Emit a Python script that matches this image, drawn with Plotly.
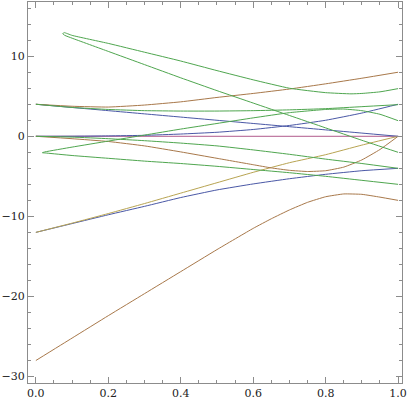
import plotly.graph_objects as go

# curve data
pink_x = [0.0, 1.0]
pink_y = [0.0, 0.0]

brown_top_x = [0.0, 0.1, 0.2, 0.3, 0.4, 0.5, 0.6, 0.7, 0.8, 0.9, 1.0]
brown_top_y = [4.0, 3.75, 3.65, 3.9, 4.3, 4.85, 5.35, 5.9, 6.55, 7.25, 8.0]

blue_down_x = [0.0, 0.1, 0.2, 0.3, 0.4, 0.5, 0.6, 0.7, 0.8, 0.9, 1.0]
blue_down_y = [4.0, 3.6, 3.2, 2.8, 2.4, 2.0, 1.6, 1.2, 0.8, 0.4, 0.0]

blue_up_x = [0.0, 0.1, 0.2, 0.3, 0.4, 0.5, 0.6, 0.7, 0.8, 0.9, 1.0]
blue_up_y = [0.0, 0.01, 0.05, 0.12, 0.28, 0.5, 0.85, 1.35, 2.0, 2.9, 4.0]

green_flat_x = [0.0, 0.1, 0.2, 0.3, 0.4, 0.5, 0.6, 0.7, 0.8, 0.9, 1.0]
green_flat_y = [4.0, 3.6, 3.35, 3.2, 3.15, 3.15, 3.2, 3.3, 3.45, 3.7, 3.95]

green_zero_x = [0.0, 0.1, 0.2, 0.3, 0.4, 0.5, 0.6, 0.7, 0.8, 0.9, 1.0]
green_zero_y = [0.0, -0.1, -0.3, -0.55, -0.85, -1.2, -1.7, -2.25, -2.85, -3.4, -4.0]

brown_mid_x = [0.0, 0.1, 0.2, 0.3, 0.4, 0.5, 0.6, 0.65, 0.7, 0.75, 0.8, 0.85, 0.9, 0.95, 1.0]
brown_mid_y = [0.0, -0.3, -0.65, -1.2, -1.95, -2.75, -3.55, -3.95, -4.25, -4.4, -4.3, -3.85, -2.95, -1.65, 0.0]

blue_low_x = [0.0, 0.1, 0.2, 0.3, 0.4, 0.5, 0.6, 0.7, 0.8, 0.9, 1.0]
blue_low_y = [-12.0, -10.9, -9.8, -8.75, -7.65, -6.7, -5.95, -5.3, -4.75, -4.3, -4.0]

yellow_x = [0.0, 0.1, 0.2, 0.3, 0.4, 0.5, 0.6, 0.7, 0.8, 0.9, 1.0]
yellow_y = [-12.0, -10.85, -9.65, -8.4, -7.1, -5.8, -4.5, -3.3, -2.3, -1.1, 0.0]

brown_low_x = [0.0, 0.1, 0.2, 0.3, 0.4, 0.5, 0.6, 0.65, 0.7, 0.75, 0.8, 0.85, 0.9, 0.95, 1.0]
brown_low_y = [-28.0, -25.2, -22.4, -19.65, -16.9, -14.15, -11.5, -10.3, -9.2, -8.25, -7.55, -7.2, -7.25, -7.6, -8.0]

# upper green loop: upper branch from x=1 back to the tip, then lower branch out to x=1
green_loop_top_x = [1.0, 0.95, 0.9, 0.87, 0.8, 0.7, 0.6, 0.5, 0.4, 0.3, 0.2, 0.1, 0.078, 0.074,
                    0.08, 0.1, 0.2, 0.3, 0.4, 0.5, 0.6, 0.7, 0.8, 0.9, 1.0]
green_loop_top_y = [5.95, 5.55, 5.35, 5.3, 5.45, 6.0, 7.05, 8.2, 9.4, 10.5, 11.6, 12.6, 12.95, 12.8,
                    12.6, 12.25, 10.6, 8.95, 7.3, 5.7, 4.15, 2.6, 1.05, -0.5, -2.0]

# lower green loop
green_loop_low_x = [1.0, 0.95, 0.9, 0.85, 0.8, 0.7, 0.6, 0.5, 0.4, 0.3, 0.2, 0.1, 0.025, 0.018,
                    0.03, 0.1, 0.2, 0.3, 0.4, 0.5, 0.6, 0.7, 0.8, 0.9, 1.0]
green_loop_low_y = [1.95, 2.75, 3.2, 3.4, 3.35, 2.95, 2.3, 1.6, 0.9, 0.15, -0.6, -1.35, -1.95, -2.05,
                    -2.1, -2.4, -2.75, -3.1, -3.4, -3.75, -4.15, -4.55, -5.0, -5.5, -6.0]

x_ticks = [0.0, 0.2, 0.4, 0.6, 0.8, 1.0]
y_ticks = [-30, -20, -10, 0, 10]

blue = '#4a58a6'
pink = '#b05a8c'
yellow = '#b8a452'
brown = '#a8784a'
green = '#4fa64f'

curves = [
    (pink_x, pink_y, pink),
    (blue_down_x, blue_down_y, blue),
    (blue_up_x, blue_up_y, blue),
    (blue_low_x, blue_low_y, blue),
    (yellow_x, yellow_y, yellow),
    (brown_top_x, brown_top_y, brown),
    (brown_mid_x, brown_mid_y, brown),
    (brown_low_x, brown_low_y, brown),
    (green_flat_x, green_flat_y, green),
    (green_zero_x, green_zero_y, green),
    (green_loop_top_x, green_loop_top_y, green),
    (green_loop_low_x, green_loop_low_y, green),
]

fig = go.Figure()

for xs, ys, col in curves:
    fig.add_trace(go.Scatter(x=xs, y=ys, mode='lines', hoverinfo='skip',
                             line=dict(color=col, width=1, shape='spline', smoothing=0.4)))

# empty trace so the top/right tick axes get drawn
fig.add_trace(go.Scatter(x=[None], y=[None], xaxis='x2', yaxis='y2', showlegend=False))

frame = '#8c8c8c'
x_range = [-0.0217, 1.0108]
y_range = [-30.81, 16.77]
tick_font = dict(family='DejaVu Serif', size=11, color='#222222')

fig.update_layout(
    width=409,
    height=402,
    margin=dict(l=24, r=4, t=2, b=17),
    showlegend=False,
    plot_bgcolor='white',
    paper_bgcolor='white',
    font=tick_font,
    xaxis=dict(
        range=x_range, tickvals=x_ticks, tickformat='.1f', tickfont=tick_font,
        ticklabeloverflow='allow',
        showgrid=False, zeroline=False, showline=True, linecolor=frame, linewidth=1,
        ticks='inside', ticklen=6, tickcolor=frame,
        minor=dict(dtick=0.05, tick0=0, ticks='inside', ticklen=3, tickcolor=frame),
    ),
    yaxis=dict(
        range=y_range, tickvals=y_ticks, tickfont=tick_font,
        ticklabeloverflow='allow',
        showgrid=False, zeroline=False, showline=True, linecolor=frame, linewidth=1,
        ticks='inside', ticklen=6, tickcolor=frame,
        minor=dict(dtick=2, tick0=0, ticks='inside', ticklen=3, tickcolor=frame),
    ),
    xaxis2=dict(
        range=x_range, tickvals=x_ticks, overlaying='x', side='top', anchor='y2',
        showticklabels=False, showgrid=False, zeroline=False, showline=True,
        linecolor=frame, linewidth=1, ticks='inside', ticklen=6, tickcolor=frame,
        minor=dict(dtick=0.05, tick0=0, ticks='inside', ticklen=3, tickcolor=frame),
    ),
    yaxis2=dict(
        range=y_range, tickvals=y_ticks, overlaying='y', side='right', anchor='x2',
        showticklabels=False, showgrid=False, zeroline=False, showline=True,
        linecolor=frame, linewidth=1, ticks='inside', ticklen=6, tickcolor=frame,
        minor=dict(dtick=2, tick0=0, ticks='inside', ticklen=3, tickcolor=frame),
    ),
)

# the page body has a default margin; drop it so the figure sits at the window corner
fig.write_html("out.html", config={'displayModeBar': False},
               post_script="document.body.style.margin='0';")
